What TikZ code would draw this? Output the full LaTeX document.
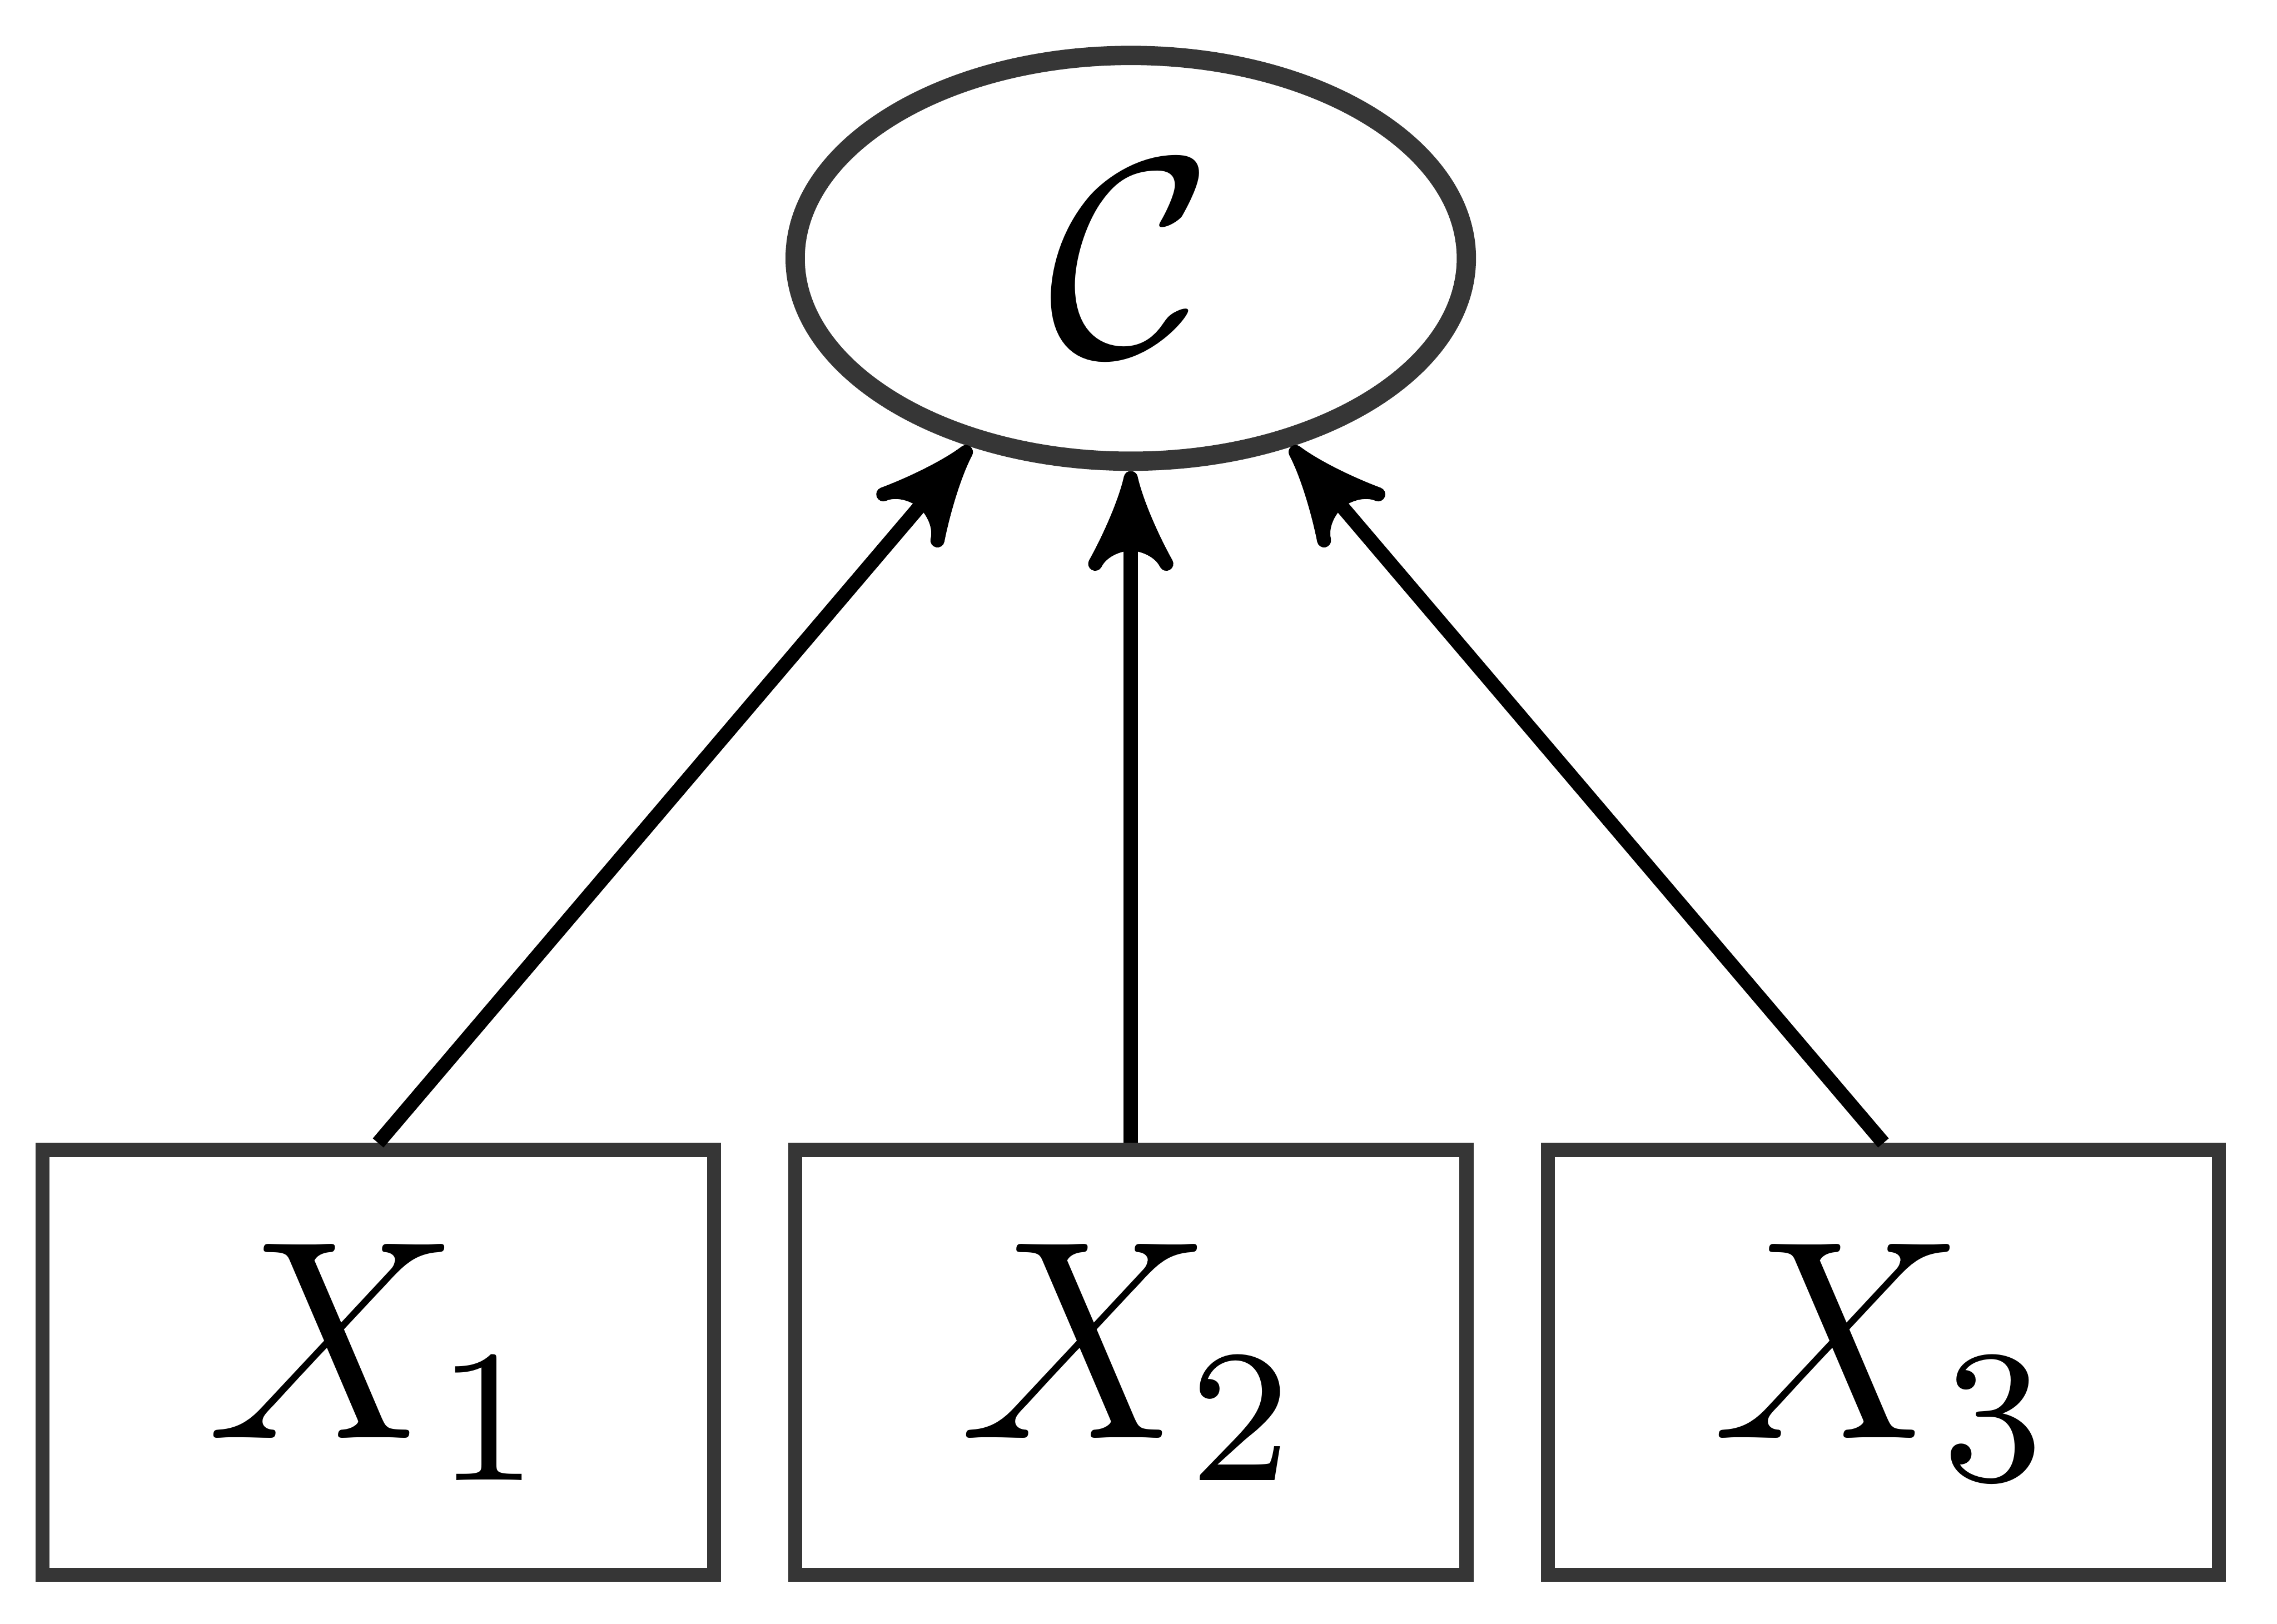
\documentclass[tikz,border=0pt]{standalone}
\usetikzlibrary{arrows.meta,shapes.geometric}
\definecolor{edgegray}{RGB}{54,54,54}
\newdimen\unitpx
\unitpx=0.06135pt
\pgfdeclarearrow{
  name = MyHead,
  parameters = {},
  setup code = {
    \pgfarrowssettipend{0pt}
    \pgfarrowssetbackend{-68.6\unitpx}
    \pgfarrowssetlineend{-40\unitpx}
    \pgfarrowshullpoint{0pt}{0pt}
    \pgfarrowsupperhullpoint{-68.6\unitpx}{29.5\unitpx}
  },
  drawing code = {
    \pgfsetroundjoin
    \pgfsetlinewidth{9.69\unitpx}
    \pgfpathmoveto{\pgfqpoint{-4.96\unitpx}{0pt}}
    \pgfpathcurveto{\pgfqpoint{-22\unitpx}{3.8\unitpx}}{\pgfqpoint{-47\unitpx}{15\unitpx}}{\pgfqpoint{-64\unitpx}{24.5\unitpx}}
    \pgfpathcurveto{\pgfqpoint{-55\unitpx}{20\unitpx}}{\pgfqpoint{-50.5\unitpx}{9\unitpx}}{\pgfqpoint{-50\unitpx}{0pt}}
    \pgfpathcurveto{\pgfqpoint{-50.5\unitpx}{-9\unitpx}}{\pgfqpoint{-55\unitpx}{-20\unitpx}}{\pgfqpoint{-64\unitpx}{-24.5\unitpx}}
    \pgfpathcurveto{\pgfqpoint{-47\unitpx}{-15\unitpx}}{\pgfqpoint{-22\unitpx}{-3.8\unitpx}}{\pgfqpoint{-4.96\unitpx}{0pt}}
    \pgfpathclose
    \pgfusepathqfillstroke
  }
}
\tikzset{
  varbox/.style={draw=edgegray, line width=0.589pt, rectangle,
    minimum width=28.37pt, minimum height=17.95pt, inner sep=0pt,
    font=\fontsize{12}{14}\selectfont},
  latent/.style={draw=edgegray, line width=0.816pt, ellipse,
    minimum width=28.36pt, minimum height=17.15pt, inner sep=0pt,
    font=\fontsize{12}{14}\selectfont},
  link/.style={draw=black, line width=0.594pt, -{MyHead}}
}
\begin{document}
\begin{tikzpicture}[x=0.06135pt, y=-0.06135pt]
  \useasboundingbox (0,0) rectangle (1568,1118.3);
  \node[latent] (c) at (778.7,177.9) {$\mathcal{C}$};
  \node[varbox] (x1) at (260.4,938.3) {$X_1$};
  \node[varbox] (x2) at (778.7,938.3) {$X_2$};
  \node[varbox] (x3) at (1297.0,938.3) {$X_3$};
  \draw[link] (x1.north) -- (c);
  \draw[link] (x2.north) -- (c);
  \draw[link] (x3.north) -- (c);
\end{tikzpicture}
\end{document}
